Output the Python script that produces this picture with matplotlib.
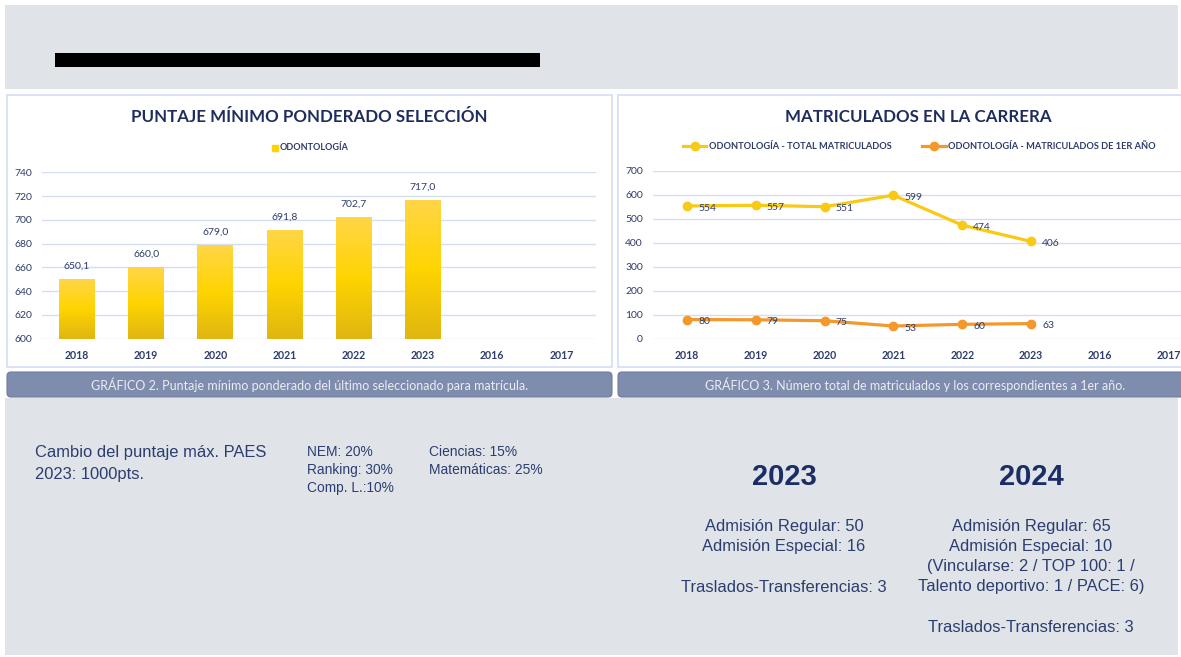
import numpy as np
import matplotlib
matplotlib.use("Agg")
import matplotlib.pyplot as plt
from matplotlib.patches import Rectangle, FancyBboxPatch
from matplotlib.colors import LinearSegmentedColormap

# data
bar_years = ['2018', '2019', '2020', '2021', '2022', '2023', '2016', '2017']
puntaje = [650.1, 660.0, 679.0, 691.8, 702.7, 717.0]
line_years = ['2018', '2019', '2020', '2021', '2022', '2023', '2016', '2017']
total_matric = [554, 557, 551, 599, 474, 406]
primer_anio = [80, 79, 75, 53, 60, 63]

ponderaciones_1 = ['NEM: 20%', 'Ranking: 30%', 'Comp. L.:10%']
ponderaciones_2 = ['Ciencias: 15%', 'Matemáticas: 25%']
admision_2023 = ['Admisión Regular: 50', 'Admisión Especial: 16', '', 'Traslados-Transferencias: 3']
admision_2024 = ['Admisión Regular: 65', 'Admisión Especial: 10', '(Vincularse: 2 / TOP 100: 1 /',
                 'Talento deportivo: 1 / PACE: 6)', '', 'Traslados-Transferencias: 3']

NAVY = '#1F2D5E'
TXT = '#2E3C6A'
GRID = '#D3DEF5'
GRAY_BG = '#E0E4E8'
CAP = '#7E8CAE'
GOLD = '#F8C915'
ORANGE = '#F5982C'

W, H = 1181, 657
fig = plt.figure(figsize=(W / 100, H / 100), dpi=100)
fig.patch.set_facecolor('white')

# background canvas in pixel coordinates
bg = fig.add_axes([0, 0, 1, 1], zorder=0)
bg.set_xlim(0, W)
bg.set_ylim(H, 0)
bg.axis('off')

bg.add_patch(Rectangle((5, 5), 1173, 84, color=GRAY_BG, lw=0))
bg.add_patch(Rectangle((5, 89), 1176, 311, color='white', lw=0))
bg.add_patch(Rectangle((5, 398), 1173, 257, color=GRAY_BG, lw=0))
bg.add_patch(Rectangle((55, 53), 485, 14, color='black', lw=0))

# faint spreadsheet grid behind the charts
for gx in [81, 347, 492, 599, 672, 772, 977, 1163]:
    bg.plot([gx, gx], [89, 398], color='#E4E4E4', lw=0.8, zorder=0.5)
for gy in range(100, 398, 18):
    bg.plot([5, 8], [gy, gy], color='#E4E4E4', lw=0.8, zorder=0.5)

# chart panels
bg.add_patch(Rectangle((7, 95), 605, 272, facecolor='white', edgecolor='#D3DDF3', lw=1.2, zorder=1))
bg.add_patch(Rectangle((618, 95), 570, 272, facecolor='white', edgecolor='#D3DDF3', lw=1.2, zorder=1))

# caption bars
captions = [(7, 612, 310, 'GRÁFICO 2. Puntaje mínimo ponderado del último seleccionado para matrícula.'),
            (618, 1190, 915, 'GRÁFICO 3. Número total de matriculados y los correspondientes a 1er año.')]
for x0, x1, cx, txt in captions:
    bg.add_patch(FancyBboxPatch((x0, 372), x1 - x0, 25,
                                boxstyle='round,pad=0,rounding_size=4',
                                facecolor=CAP, edgecolor='#6F7DA0', lw=0.8, zorder=1))
    bg.text(cx, 385, txt, ha='center', va='center', color='#EBEDF3',
            fontsize=9, family='Lato', zorder=2)

# titles
bg.text(309, 117, 'PUNTAJE MÍNIMO PONDERADO SELECCIÓN', ha='center', va='center',
        color=NAVY, fontsize=12.2, fontweight='bold', family='Lato', zorder=2)
bg.text(918, 117, 'MATRICULADOS EN LA CARRERA', ha='center', va='center',
        color=NAVY, fontsize=12.2, fontweight='bold', family='Lato', zorder=2)


def px_axes(x0, x1, ytop, ybot):
    return fig.add_axes([x0 / W, 1 - ybot / H, (x1 - x0) / W, (ybot - ytop) / H], zorder=2)


def style_axes(ax):
    ax.patch.set_visible(False)
    ax.yaxis.grid(True, color=GRID, lw=1)
    ax.set_axisbelow(True)
    for s in ax.spines.values():
        s.set_visible(False)
    ax.tick_params(axis='both', length=0, colors=TXT)
    ax.tick_params(axis='y', pad=7, labelsize=7.5)
    ax.tick_params(axis='x', pad=8, labelsize=7.6)
    for lab in ax.get_xticklabels():
        lab.set_fontweight('bold')
        lab.set_family('Lato')
    for lab in ax.get_yticklabels():
        lab.set_family('Lato')


# ---- bar chart ----
ax1 = px_axes(42.4, 596, 172.3, 338.7)
ax1.set_yticks(np.arange(600, 741, 20))
ax1.set_xticks(range(len(bar_years)))
ax1.set_xticklabels(bar_years)
style_axes(ax1)

grad = LinearSegmentedColormap.from_list('g', ['#E0B612', '#FFD400', '#FFD648'])
bars = ax1.bar(range(len(puntaje)), puntaje, width=0.52, bottom=0, color='none', lw=0)
for b in bars:
    x0 = b.get_x()
    top = b.get_height()
    im = ax1.imshow(np.linspace(0, 1, 100).reshape(-1, 1), cmap=grad, origin='lower',
                    extent=[x0, x0 + b.get_width(), 600, top], aspect='auto', zorder=2)
    im.set_clip_path(b)
for i, v in enumerate(puntaje):
    ax1.annotate(f'{v:.1f}'.replace('.', ','), (i, v), xytext=(0, 6), textcoords='offset points',
                 ha='center', va='bottom', fontsize=7.5, color=TXT, family='Lato')
ax1.set_xlim(-0.5, len(bar_years) - 0.5)
ax1.set_ylim(600, 740)

# legend for bar chart
bg.add_patch(Rectangle((272, 144.5), 6, 6, color='#FFD200', zorder=2))
bg.text(280, 148, 'ODONTOLOGÍA', ha='left', va='center', color=TXT, fontsize=6.5,
        fontweight='bold', family='Lato', zorder=2)

# ---- line chart ----
ax2 = px_axes(652.6, 1203, 171, 338.7)
ax2.set_yticks(np.arange(0, 701, 100))
ax2.set_xticks(range(len(line_years)))
ax2.set_xticklabels(line_years)
style_axes(ax2)

xs = range(len(total_matric))
l1, = ax2.plot(xs, total_matric, color=GOLD, lw=2.3, marker='o', ms=6,
               label='ODONTOLOGÍA - TOTAL MATRICULADOS', zorder=3)
l2, = ax2.plot(xs, primer_anio, color=ORANGE, lw=2.3, marker='o', ms=6,
               label='ODONTOLOGÍA - MATRICULADOS DE 1ER AÑO', zorder=3)
for series in (total_matric, primer_anio):
    for i, v in enumerate(series):
        ax2.annotate(str(v), (i, v), xytext=(8, -1.5), textcoords='offset points',
                     ha='left', va='center', fontsize=7.5, color=TXT, family='Lato', zorder=4)
ax2.set_xlim(-0.5, len(line_years) - 0.5)
ax2.set_ylim(0, 700)

leg = fig.legend(handles=[l1, l2], loc='center', bbox_to_anchor=(919.5 / W, 1 - 147 / H),
                 ncol=2, frameon=False, handlelength=2.5, handletextpad=0.3,
                 columnspacing=3.3, prop={'family': 'Lato', 'weight': 'bold', 'size': 6.7})
for t in leg.get_texts():
    t.set_color(TXT)

# ---- bottom text ----
TXT2 = '#2B3D70'
FONT = 'Liberation Sans'
for k, line in enumerate(['Cambio del puntaje máx. PAES', '2023: 1000pts.']):
    bg.text(35, 453 + 21 * k, line, ha='left', va='center', color=TXT2, fontsize=11.9, family=FONT)
for k, line in enumerate(ponderaciones_1):
    bg.text(307, 452 + 18 * k, line, ha='left', va='center', color=TXT2, fontsize=9.9, family=FONT)
for k, line in enumerate(ponderaciones_2):
    bg.text(429, 452 + 18 * k, line, ha='left', va='center', color=TXT2, fontsize=9.9, family=FONT)

for cx, year, lines in [(784, '2023', admision_2023), (1031, '2024', admision_2024)]:
    bg.text(cx, 477, year, ha='center', va='center', color='#1B2D66', fontsize=21,
            fontweight='bold', family=FONT)
    y = 526
    for line in lines:
        if line:
            bg.text(cx, y, line, ha='center', va='center', color=TXT2, fontsize=11.9, family=FONT)
            y += 20
        else:
            y += 22

fig.savefig('out.png', dpi=100, facecolor='white')
